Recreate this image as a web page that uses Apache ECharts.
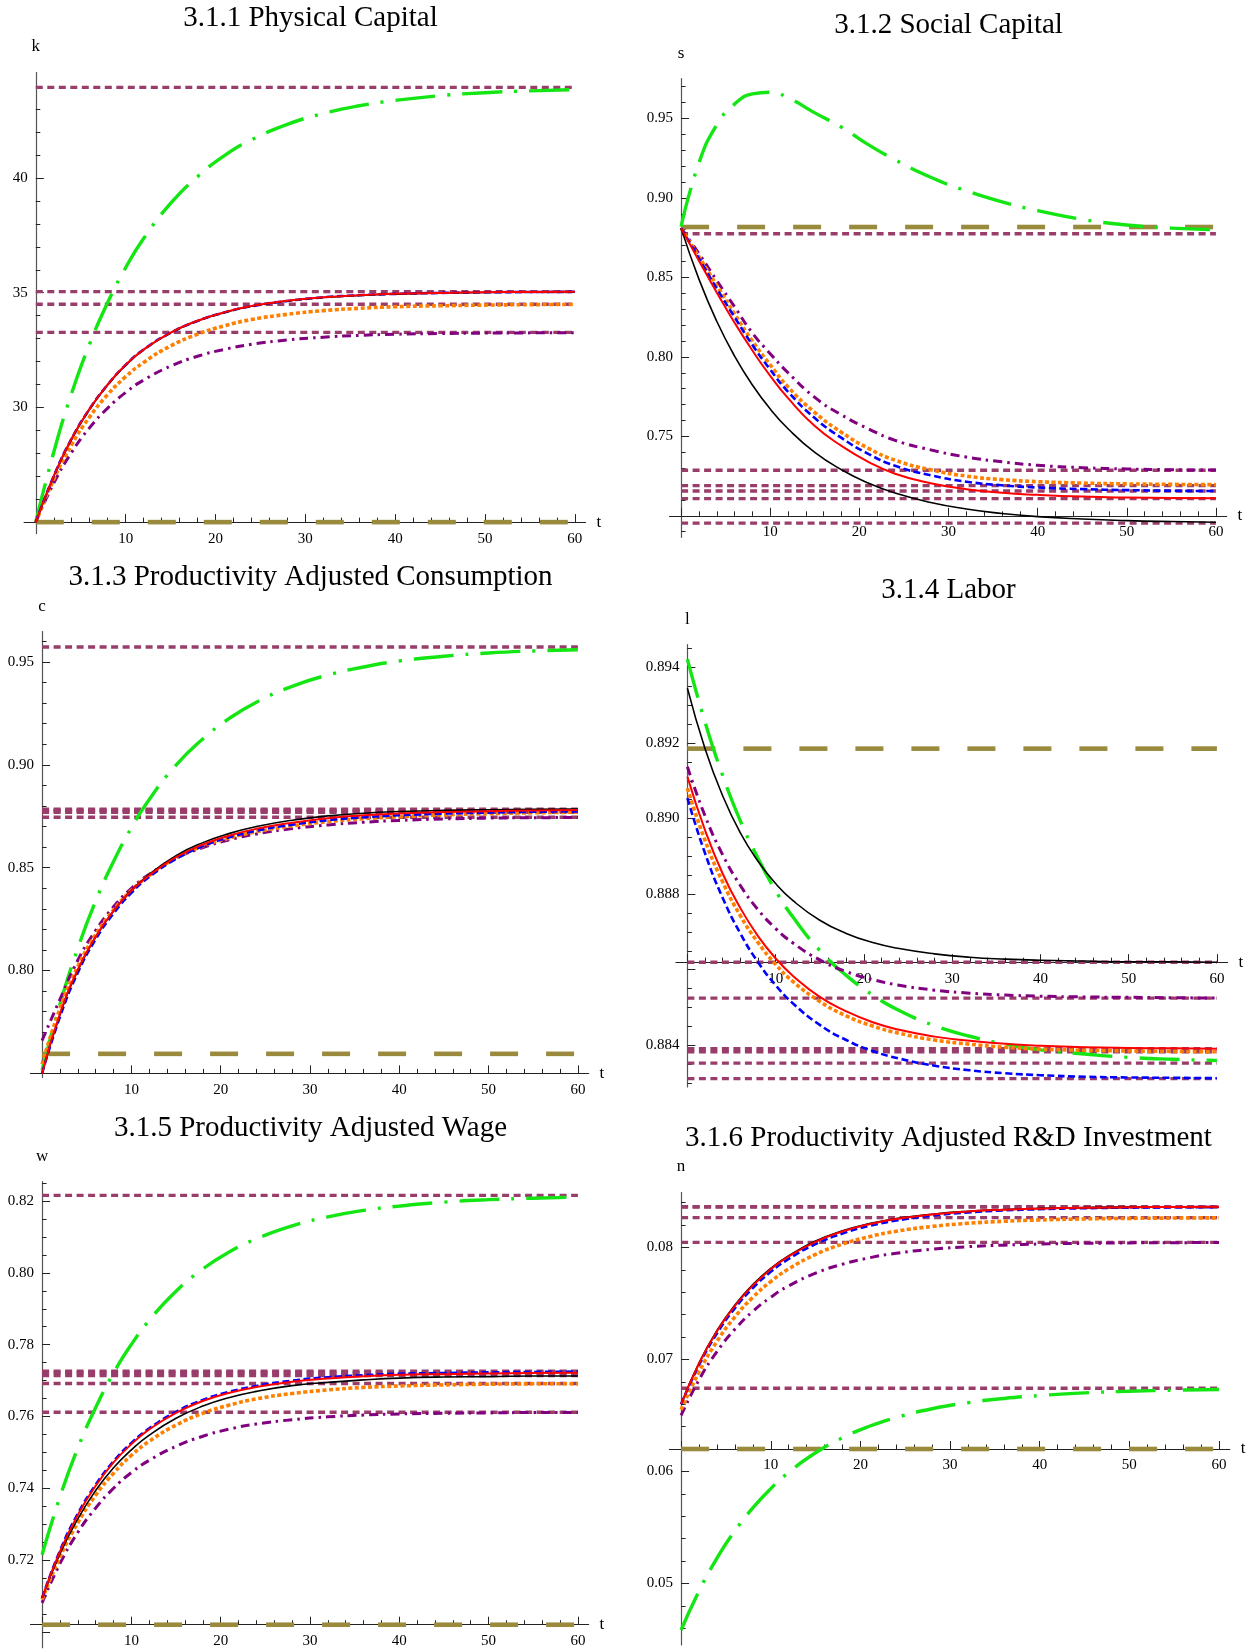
<!DOCTYPE html>
<html>
<head>
<meta charset="utf-8">
<script src="https://cdn.jsdelivr.net/npm/echarts@6/dist/echarts.min.js"></script>
<style>
  html, body { margin: 0; padding: 0; background: #fff; }
  #chart { width: 1259px; height: 1650px; }
</style>
</head>
<body>
<div id="chart"></div>
<script>
// Time grid shared by every trajectory
const T = [0, 2, 4, 6, 8, 10, 12, 15, 18, 21, 24, 28, 32, 36, 40, 45, 50, 55, 60];
const tTicks = [0, 10, 20, 30, 40, 50, 60];
const tLabels = [10, 20, 30, 40, 50, 60];

// 3.1.1 Physical capital k
const k_green  = [25, 28.05, 30.63, 32.77, 34.57, 36.09, 37.36, 38.89, 40.06, 40.98, 41.66, 42.34, 42.81, 43.15, 43.38, 43.59, 43.72, 43.80, 43.85];
const k_purple = [25, 26.70, 28.05, 29.12, 29.97, 30.65, 31.19, 31.80, 32.23, 32.53, 32.75, 32.94, 33.06, 33.14, 33.19, 33.22, 33.24, 33.25, 33.26];
const k_orange = [25, 26.87, 28.38, 29.59, 30.56, 31.34, 31.96, 32.68, 33.19, 33.56, 33.83, 34.06, 34.22, 34.32, 34.39, 34.43, 34.46, 34.48, 34.49];
const k_blue   = [25, 27.01, 28.65, 29.94, 30.99, 31.85, 32.52, 33.25, 33.77, 34.14, 34.41, 34.64, 34.80, 34.89, 34.95, 34.99, 35.02, 35.03, 35.04];
const k_black  = [25, 27.00, 28.63, 29.93, 30.98, 31.84, 32.51, 33.25, 33.77, 34.14, 34.41, 34.64, 34.79, 34.88, 34.94, 34.99, 35.01, 35.03, 35.04];
const k_red    = [25, 27.02, 28.66, 29.95, 31.00, 31.86, 32.52, 33.26, 33.78, 34.15, 34.42, 34.65, 34.80, 34.89, 34.95, 34.99, 35.02, 35.03, 35.04];
const k_levels = [43.95, 35.05, 34.50, 33.27];
const k_base = 25;
const k_ticks = [25, 30, 35, 40];
const k_labels = [30, 35, 40];

// 3.1.2 Social capital s
const s_green  = [0.882, 0.922, 0.946, 0.959, 0.9655, 0.9665, 0.963, 0.9535, 0.9445, 0.9335, 0.924, 0.913, 0.9045, 0.8975, 0.892, 0.8865, 0.883, 0.881, 0.880];
const s_purple = [0.881, 0.865, 0.848, 0.8315, 0.815, 0.802, 0.790, 0.7745, 0.7635, 0.7548, 0.7475, 0.7415, 0.737, 0.734, 0.7318, 0.7303, 0.7295, 0.729, 0.7288];
const s_orange = [0.881, 0.863, 0.845, 0.827, 0.810, 0.795, 0.781, 0.765, 0.7525, 0.7425, 0.735, 0.729, 0.725, 0.7228, 0.7215, 0.7206, 0.7201, 0.7198, 0.7196];
const s_blue   = [0.881, 0.862, 0.843, 0.825, 0.8075, 0.792, 0.778, 0.7615, 0.749, 0.739, 0.7315, 0.7255, 0.7215, 0.7192, 0.7178, 0.7168, 0.7162, 0.7158, 0.7156];
const s_black  = [0.8810, 0.8489, 0.8224, 0.8005, 0.7823, 0.7672, 0.7548, 0.7399, 0.7290, 0.7206, 0.7143, 0.7084, 0.7043, 0.7015, 0.6995, 0.6980, 0.6970, 0.6964, 0.6960];
const s_red    = [0.881, 0.8605, 0.8405, 0.8215, 0.8040, 0.7880, 0.7740, 0.7565, 0.7440, 0.7340, 0.7265, 0.7205, 0.7168, 0.7145, 0.7132, 0.7121, 0.7115, 0.7112, 0.7110];
const s_levels = [0.8775, 0.7287, 0.7190, 0.7156, 0.7108, 0.6954];
const s_base = 0.8817;
const s_ticks = [0.70, 0.75, 0.80, 0.85, 0.90, 0.95];
const s_labels = [0.75, 0.80, 0.85, 0.90, 0.95];

// 3.1.3 Productivity adjusted consumption c
const c_green  = [0.7515, 0.7836, 0.8108, 0.8338, 0.8530, 0.8694, 0.8832, 0.8999, 0.9126, 0.9227, 0.9305, 0.9382, 0.9437, 0.9476, 0.9505, 0.9528, 0.9544, 0.9554, 0.9560];
const c_purple = [0.7660, 0.7860, 0.8050, 0.8195, 0.8310, 0.8400, 0.8468, 0.8545, 0.8598, 0.8636, 0.8664, 0.8690, 0.8708, 0.8721, 0.8730, 0.8737, 0.8741, 0.8743, 0.8744];
const c_orange = [0.7545, 0.7815, 0.8020, 0.8175, 0.8295, 0.8390, 0.8462, 0.8547, 0.8605, 0.8645, 0.8675, 0.8703, 0.8724, 0.8738, 0.8748, 0.8757, 0.8763, 0.8767, 0.8770];
const c_blue   = [0.7500, 0.7775, 0.7990, 0.8152, 0.8278, 0.8378, 0.8455, 0.8543, 0.8605, 0.8648, 0.8680, 0.8709, 0.8731, 0.8745, 0.8755, 0.8763, 0.8768, 0.8772, 0.8774];
const c_black  = [0.7500, 0.7785, 0.8000, 0.8163, 0.8290, 0.8390, 0.8468, 0.8559, 0.8622, 0.8667, 0.8700, 0.8731, 0.8752, 0.8765, 0.8773, 0.8779, 0.8782, 0.8784, 0.8785];
const c_red    = [0.7500, 0.7790, 0.8005, 0.8165, 0.8290, 0.8388, 0.8463, 0.8551, 0.8613, 0.8657, 0.8689, 0.8719, 0.8741, 0.8755, 0.8764, 0.8771, 0.8775, 0.8778, 0.8780];
const c_levels = [0.9573, 0.8785, 0.8780, 0.8775, 0.8770, 0.8745];
const c_base = 0.7595;
const c_ticks = [0.75, 0.80, 0.85, 0.90, 0.95];
const c_labels = [0.80, 0.85, 0.90, 0.95];

// 3.1.4 Labor l
const l_green  = [0.89422, 0.89255, 0.89114, 0.88994, 0.88895, 0.88809, 0.88738, 0.88651, 0.88585, 0.88533, 0.88492, 0.88452, 0.88424, 0.88403, 0.88388, 0.88377, 0.88368, 0.88363, 0.88360];
const l_purple = [0.89137, 0.89007, 0.88904, 0.88823, 0.88759, 0.88709, 0.88670, 0.88626, 0.88595, 0.88574, 0.88559, 0.88546, 0.88538, 0.88533, 0.88530, 0.88528, 0.88527, 0.88526, 0.88525];
const l_orange = [0.89080, 0.88942, 0.88832, 0.88743, 0.88672, 0.88614, 0.88568, 0.88516, 0.88478, 0.88451, 0.88432, 0.88414, 0.88403, 0.88395, 0.88390, 0.88387, 0.88385, 0.88384, 0.88383];
const l_blue   = [0.89054, 0.88908, 0.88790, 0.88696, 0.88620, 0.88559, 0.88510, 0.88454, 0.88414, 0.88385, 0.88365, 0.88346, 0.88334, 0.88326, 0.88321, 0.88317, 0.88315, 0.88314, 0.88313];
const l_black  = [0.89345, 0.89185, 0.89060, 0.88962, 0.88887, 0.88828, 0.88782, 0.88731, 0.88696, 0.88672, 0.88656, 0.88642, 0.88633, 0.88628, 0.88625, 0.88623, 0.88621, 0.88621, 0.88620];
const l_red    = [0.89111, 0.88969, 0.88854, 0.88763, 0.88689, 0.88630, 0.88583, 0.88528, 0.88490, 0.88461, 0.88441, 0.88423, 0.88412, 0.88404, 0.88399, 0.88395, 0.88393, 0.88392, 0.88391];
const l_levels = [0.88620, 0.88525, 0.88391, 0.88383, 0.88353, 0.88312];
const l_base = 0.89185;
const l_ticks = [0.884, 0.886, 0.888, 0.890, 0.892, 0.894];
const l_labels = [0.884, 0.888, 0.890, 0.892, 0.894];

// 3.1.5 Productivity adjusted wage w
const w_green  = [0.7215, 0.7376, 0.7512, 0.7625, 0.7721, 0.7801, 0.7868, 0.7949, 0.8011, 0.8059, 0.8095, 0.8131, 0.8156, 0.8174, 0.8186, 0.8197, 0.8204, 0.8208, 0.8211];
const w_purple = [0.7081, 0.7190, 0.7277, 0.7345, 0.7400, 0.7444, 0.7478, 0.7517, 0.7545, 0.7565, 0.7579, 0.7591, 0.7599, 0.7604, 0.7607, 0.7609, 0.7610, 0.7611, 0.7611];
const w_orange = [0.7090, 0.7209, 0.7304, 0.7381, 0.7442, 0.7492, 0.7531, 0.7576, 0.7609, 0.7632, 0.7649, 0.7664, 0.7674, 0.7681, 0.7685, 0.7688, 0.7690, 0.7691, 0.7691];
const w_blue   = [0.7095, 0.7226, 0.7329, 0.7410, 0.7475, 0.7526, 0.7567, 0.7613, 0.7646, 0.7669, 0.7685, 0.7700, 0.7709, 0.7715, 0.7719, 0.7721, 0.7723, 0.7724, 0.7725];
const w_black  = [0.7095, 0.7217, 0.7315, 0.7394, 0.7457, 0.7507, 0.7548, 0.7595, 0.7629, 0.7653, 0.7670, 0.7686, 0.7695, 0.7702, 0.7707, 0.7710, 0.7711, 0.7713, 0.7713];
const w_red    = [0.7095, 0.7224, 0.7326, 0.7407, 0.7472, 0.7523, 0.7564, 0.7610, 0.7643, 0.7666, 0.7682, 0.7697, 0.7706, 0.7712, 0.7716, 0.7718, 0.7720, 0.7721, 0.7722];
const w_levels = [0.8216, 0.7726, 0.7721, 0.7714, 0.7692, 0.7612];
const w_base = 0.702;
const w_ticks = [0.70, 0.72, 0.74, 0.76, 0.78, 0.80, 0.82];
const w_labels = [0.72, 0.74, 0.76, 0.78, 0.80, 0.82];

// 3.1.6 Productivity adjusted R&D investment n
const n_green  = [0.04584, 0.04932, 0.05225, 0.05469, 0.05674, 0.05846, 0.05991, 0.06166, 0.06300, 0.06403, 0.06481, 0.06559, 0.06613, 0.06651, 0.06677, 0.06701, 0.06716, 0.06725, 0.06731];
const n_purple = [0.0650, 0.06818, 0.07070, 0.07269, 0.07429, 0.07555, 0.07656, 0.07770, 0.07850, 0.07907, 0.07948, 0.07983, 0.08006, 0.08020, 0.08030, 0.08036, 0.08040, 0.08042, 0.08043];
const n_orange = [0.0655, 0.06888, 0.07161, 0.07379, 0.07554, 0.07695, 0.07808, 0.07937, 0.08029, 0.08096, 0.08144, 0.08187, 0.08215, 0.08233, 0.08245, 0.08254, 0.08259, 0.08262, 0.08264];
const n_blue   = [0.0660, 0.06950, 0.07232, 0.07456, 0.07637, 0.07782, 0.07897, 0.08030, 0.08124, 0.08192, 0.08240, 0.08283, 0.08312, 0.08330, 0.08341, 0.08350, 0.08355, 0.08358, 0.08360];
const n_black  = [0.0660, 0.06968, 0.07258, 0.07486, 0.07668, 0.07812, 0.07926, 0.08057, 0.08148, 0.08212, 0.08257, 0.08296, 0.08322, 0.08338, 0.08348, 0.08355, 0.08359, 0.08362, 0.08363];
const n_red    = [0.0660, 0.06963, 0.07251, 0.07478, 0.07660, 0.07805, 0.07919, 0.08050, 0.08142, 0.08207, 0.08253, 0.08293, 0.08320, 0.08336, 0.08346, 0.08354, 0.08358, 0.08361, 0.08362];
const n_levels = [0.08364, 0.08360, 0.08266, 0.08045, 0.06742];
const n_base = 0.062;
const n_ticks = [0.05, 0.06, 0.07, 0.08];
const n_labels = [0.05, 0.06, 0.07, 0.08];

// ---- styling ----
const FONT = "'Liberation Serif', 'Times New Roman', serif";
const AXIS = '#555';
const STYLE = {
  green:  { color: '#14e614', width: 3.4, type: [40, 12, 3, 12] },
  purple: { color: '#800080', width: 3,   type: [9, 5, 2.5, 5] },
  orange: { color: '#ff8000', width: 3.6, type: [4, 2.5] },
  blue:   { color: '#0000ff', width: 2.6, type: [7, 3.5] },
  black:  { color: '#000000', width: 1.6, type: 'solid' },
  red:    { color: '#ff0000', width: 2,   type: 'solid' }
};
const LEVEL = { color: '#993d6b', width: 3.4, type: [7, 4.5] };
const BASE  = { color: '#9a8a3e', width: 4.6, type: [28, 28] };

// Panel placement (pixels) and value ranges
const panels = [
  { title: '3.1.1 Physical Capital', tx: 310.5, ty: 17.9, name: 'k',
    left: 35.8, right: 574.8, top: 72.5, bottom: 533.6, min: 24.5, max: 44.6, origin: 25,
    ticks: k_ticks, labels: k_labels, minor: 1, digits: 0,
    curves: { green: k_green, purple: k_purple, orange: k_orange, blue: k_blue, black: k_black, red: k_red },
    levels: k_levels, base: k_base },
  { title: '3.1.2 Social Capital', tx: 948.5, ty: 25.3, name: 's',
    left: 681.1, right: 1215.9, top: 78.7, bottom: 537.3, min: 0.6865, max: 0.975, origin: 0.70,
    ticks: s_ticks, labels: s_labels, minor: 0.01, digits: 2,
    curves: { green: s_green, purple: s_purple, orange: s_orange, blue: s_blue, black: s_black, red: s_red },
    levels: s_levels, base: s_base },
  { title: '3.1.3 Productivity Adjusted Consumption', tx: 310.5, ty: 576.9, name: 'c',
    left: 42.1, right: 577.9, top: 631.6, bottom: 1077.5, min: 0.748, max: 0.9648, origin: 0.75,
    ticks: c_ticks, labels: c_labels, minor: 0.01, digits: 2,
    curves: { green: c_green, purple: c_purple, orange: c_orange, blue: c_blue, black: c_black, red: c_red },
    levels: c_levels, base: c_base },
  { title: '3.1.4 Labor', tx: 948.5, ty: 590.6, name: 'l',
    left: 687.4, right: 1216.9, top: 644.7, bottom: 1086.9, min: 0.8829, max: 0.8946, origin: 0.8862,
    ticks: l_ticks, labels: l_labels, minor: 0.0005, digits: 3,
    curves: { green: l_green, purple: l_purple, orange: l_orange, blue: l_blue, black: l_black, red: l_red },
    levels: l_levels, base: l_base },
  { title: '3.1.5 Productivity Adjusted Wage', tx: 310.5, ty: 1128.5, name: 'w',
    left: 42.1, right: 577.9, top: 1181.7, bottom: 1647.7, min: 0.6956, max: 0.8254, origin: 0.702,
    ticks: w_ticks, labels: w_labels, minor: 0.005, digits: 2,
    curves: { green: w_green, purple: w_purple, orange: w_orange, blue: w_blue, black: w_black, red: w_red },
    levels: w_levels, base: w_base },
  { title: '3.1.6 Productivity Adjusted R&D Investment', tx: 948.5, ty: 1138, name: 'n',
    left: 681.1, right: 1219.0, top: 1192.5, bottom: 1645.0, min: 0.0445, max: 0.0849, origin: 0.062,
    ticks: n_ticks, labels: n_labels, minor: 0.002, digits: 2,
    curves: { green: n_green, purple: n_purple, orange: n_orange, blue: n_blue, black: n_black, red: n_red },
    levels: n_levels, base: n_base }
];

// tick positions on a regular step between min and max, leaving out the major ones
function minorTicks(min, max, step, majors) {
  const out = [];
  const a = Math.ceil(min / step - 1e-9), b = Math.floor(max / step + 1e-9);
  for (let i = a; i <= b; i++) {
    const v = +(i * step).toFixed(6);
    if (!majors.some(m => Math.abs(m - v) < step / 10)) out.push(v);
  }
  return out;
}

const option = {
  animation: false,
  backgroundColor: '#ffffff',
  title: [], grid: [], xAxis: [], yAxis: [], series: []
};

const labelStyle = { fontFamily: FONT, fontSize: 15, color: '#000' };
const hiddenAxis = (gridIndex) => ({ gridIndex, type: 'value', show: false, min: 0, max: 1 });

panels.forEach(p => {
  option.title.push({
    text: p.title, left: p.tx, top: p.ty, padding: 0,
    textAlign: 'center', textVerticalAlign: 'middle',
    textStyle: { fontFamily: FONT, fontSize: 29, fontWeight: 'normal', color: '#000' }
  });

  const W = p.right - p.left, H = p.bottom - p.top;
  const rect = { left: p.left, top: p.top, width: W, height: H, containLabel: false, outerBoundsMode: 'none' };

  // main grid: curves + y axis with major ticks
  const gMain = option.grid.length;
  option.grid.push(Object.assign({}, rect));
  const xMain = option.xAxis.length;
  option.xAxis.push({ gridIndex: gMain, type: 'value', min: 0, max: 60, show: false });
  const yMain = option.yAxis.length;
  option.yAxis.push({
    gridIndex: gMain, type: 'value', min: p.min, max: p.max, position: 'left',
    name: p.name, nameLocation: 'end', nameGap: 17,
    nameTextStyle: { fontFamily: FONT, fontSize: 17, color: '#000', align: 'center' },
    axisLine: { show: true, onZero: false, lineStyle: { color: AXIS, width: 1.2 } },
    axisTick: { show: true, inside: true, length: 8, customValues: p.ticks, lineStyle: { color: '#222', width: 1 } },
    axisLabel: Object.assign({ show: true, margin: 8, customValues: p.labels,
      formatter: v => Number(v).toFixed(p.digits) }, labelStyle),
    splitLine: { show: false }
  });

  // same rectangle, short minor ticks on the y axis
  const gMinor = option.grid.length;
  option.grid.push(Object.assign({}, rect));
  option.xAxis.push(Object.assign(hiddenAxis(gMinor), { min: 0, max: 60 }));
  option.yAxis.push({
    gridIndex: gMinor, type: 'value', min: p.min, max: p.max, position: 'left',
    axisLine: { show: false },
    axisTick: { show: true, inside: true, length: 4.5, customValues: minorTicks(p.min, p.max, p.minor, p.ticks),
      lineStyle: { color: '#222', width: 1 } },
    axisLabel: { show: false }, splitLine: { show: false }
  });

  // t axis drawn where the vertical value equals the panel origin
  const pxPerT = W / 60;
  const originY = p.top + (p.max - p.origin) / (p.max - p.min) * H;
  const tMin = -1.3, tMax = 61.2;
  const tRect = { left: p.left + tMin * pxPerT, top: p.top, width: (tMax - tMin) * pxPerT,
    height: originY - p.top, containLabel: false, outerBoundsMode: 'none' };
  const gT = option.grid.length;
  option.grid.push(Object.assign({}, tRect));
  option.xAxis.push({
    gridIndex: gT, type: 'value', min: tMin, max: tMax, position: 'bottom',
    name: 't', nameLocation: 'end', nameGap: 11,
    nameTextStyle: { fontFamily: FONT, fontSize: 17, color: '#000' },
    axisLine: { show: true, onZero: false, lineStyle: { color: '#222', width: 1.2 } },
    axisTick: { show: true, inside: true, length: 8, customValues: tTicks, lineStyle: { color: '#222', width: 1 } },
    axisLabel: Object.assign({ show: true, margin: 9, customValues: tLabels,
      formatter: v => String(Math.round(v)) }, labelStyle),
    splitLine: { show: false }
  });
  option.yAxis.push(hiddenAxis(gT));

  const gTm = option.grid.length;
  option.grid.push(Object.assign({}, tRect));
  option.xAxis.push({
    gridIndex: gTm, type: 'value', min: tMin, max: tMax, position: 'bottom',
    axisLine: { show: false },
    axisTick: { show: true, inside: true, length: 4.5, customValues: minorTicks(0, 60, 2, tTicks),
      lineStyle: { color: '#222', width: 1 } },
    axisLabel: { show: false }, splitLine: { show: false }
  });
  option.yAxis.push(hiddenAxis(gTm));

  // steady-state levels (dotted) and the initial level (long dashes)
  p.levels.forEach((v, i) => {
    option.series.push({
      type: 'line', name: p.name + '_level_' + i, xAxisIndex: xMain, yAxisIndex: yMain,
      data: [[0, v], [60, v]], symbol: 'none', silent: true, z: 2,
      lineStyle: Object.assign({ cap: 'butt' }, LEVEL)
    });
  });
  option.series.push({
    type: 'line', name: p.name + '_base', xAxisIndex: xMain, yAxisIndex: yMain,
    data: [[0, p.base], [60, p.base]], symbol: 'none', silent: true, z: 2,
    lineStyle: Object.assign({ cap: 'butt' }, BASE)
  });

  // transition paths
  ['green', 'purple', 'orange', 'blue', 'black', 'red'].forEach((key, i) => {
    const vals = p.curves[key];
    option.series.push({
      type: 'line', name: p.name + '_' + key, xAxisIndex: xMain, yAxisIndex: yMain,
      data: T.map((t, j) => [t, vals[j]]),
      symbol: 'none', smooth: 0.5, silent: true, z: 3 + i,
      lineStyle: Object.assign({ cap: 'butt', join: 'round' }, STYLE[key])
    });
  });
});

const chart = echarts.init(document.getElementById('chart'), null, { renderer: 'canvas', width: 1259, height: 1650 });
chart.setOption(option);
</script>
</body>
</html>
